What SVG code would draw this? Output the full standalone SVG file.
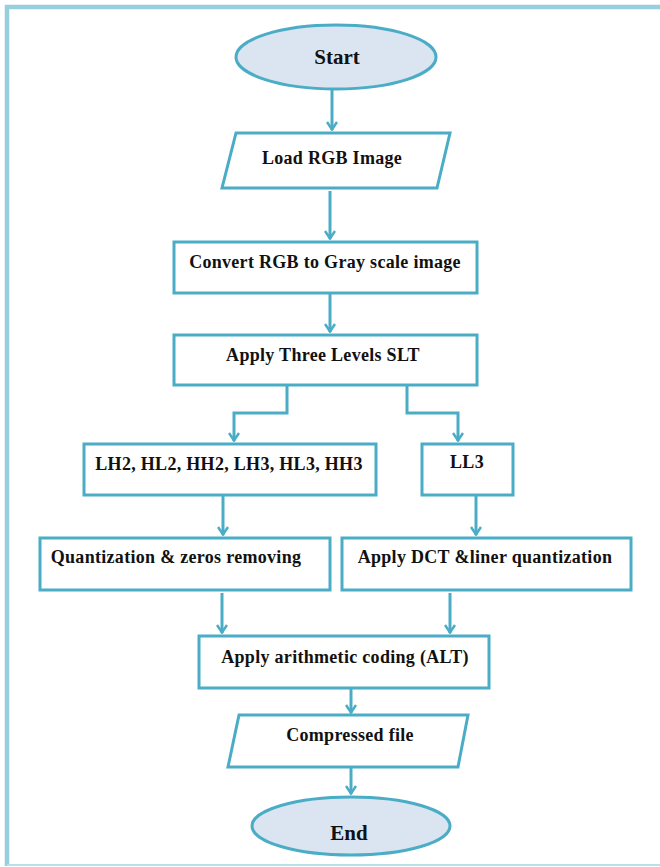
<svg xmlns="http://www.w3.org/2000/svg" width="660" height="867" viewBox="0 0 660 867">
<defs>
<marker id="ah" markerWidth="10" markerHeight="12" refX="9" refY="6" orient="auto" markerUnits="userSpaceOnUse" viewBox="0 0 10 12">
<path d="M1,1 L8.5,6 L1,11" fill="none" stroke="#4bacc6" stroke-width="2.5"/>
</marker>
<style>
.sh{fill:#ffffff;stroke:#4bacc6;stroke-width:3}
.el{fill:#dbe5f1;stroke:#4bacc6;stroke-width:3}
.t{font-family:"Liberation Serif","Times New Roman",serif;font-weight:bold;font-size:18px;letter-spacing:0.3px;fill:#111111;text-anchor:middle}
.tl{font-size:21px;letter-spacing:0}
.c{fill:none;stroke:#4bacc6;stroke-width:3;marker-end:url(#ah)}
</style>
</defs>
<rect x="0" y="0" width="660" height="867" fill="#ffffff"/>
<path d="M7,866 L7,7 L662,7" fill="none" stroke="#96cfdd" stroke-width="4.5"/>
<line x1="7" y1="865" x2="662" y2="865" stroke="#b9e0ea" stroke-width="2"/>
<g id="connectors">
<path class="c" d="M332,90 L332,130"/>
<path class="c" d="M330,191 L330,239"/>
<path class="c" d="M330,293 L330,332"/>
<path class="c" d="M287,385 L287,413 L234,413 L234,441"/>
<path class="c" d="M407,385 L407,413 L458,413 L458,441"/>
<path class="c" d="M223,495 L223,535"/>
<path class="c" d="M476,495 L476,535"/>
<path class="c" d="M222,593 L222,633"/>
<path class="c" d="M450,593 L450,633"/>
<path class="c" d="M351,688 L351,713"/>
<path class="c" d="M351,767 L351,794"/>
</g>
<g id="start">
<ellipse class="el" cx="336" cy="57" rx="100" ry="32"/>
<text class="t tl" x="337" y="64">Start</text>
</g>
<g id="load">
<polygon class="sh" points="236,133 450,133 437,188 222,188"/>
<text class="t" x="332" y="164">Load RGB Image</text>
</g>
<g id="convert">
<rect class="sh" x="174" y="242" width="303" height="51"/>
<text class="t" x="325" y="268">Convert RGB to Gray scale image</text>
</g>
<g id="slt">
<rect class="sh" x="174" y="335" width="303" height="50"/>
<text class="t" x="323" y="361">Apply Three Levels SLT</text>
</g>
<g id="lh2">
<rect class="sh" x="84" y="444" width="292" height="51"/>
<text class="t" x="229" y="470">LH2, HL2, HH2, LH3, HL3, HH3</text>
</g>
<g id="ll3">
<rect class="sh" x="422" y="444" width="91" height="51"/>
<text class="t" x="467" y="468">LL3</text>
</g>
<g id="quant">
<rect class="sh" x="40" y="538" width="290" height="52"/>
<text class="t" x="176" y="563">Quantization &amp; zeros removing</text>
</g>
<g id="dct">
<rect class="sh" x="342" y="538" width="289" height="52"/>
<text class="t" x="485" y="563">Apply DCT &amp;liner quantization</text>
</g>
<g id="alt">
<rect class="sh" x="199" y="636" width="290" height="52"/>
<text class="t" x="345" y="663">Apply arithmetic coding (ALT)</text>
</g>
<g id="compressed">
<polygon class="sh" points="239,715 468,715 458,767 228,767"/>
<text class="t" x="350" y="741">Compressed file</text>
</g>
<g id="end">
<ellipse class="el" cx="351" cy="826" rx="99" ry="29"/>
<text class="t tl" x="349" y="840">End</text>
</g>
</svg>
